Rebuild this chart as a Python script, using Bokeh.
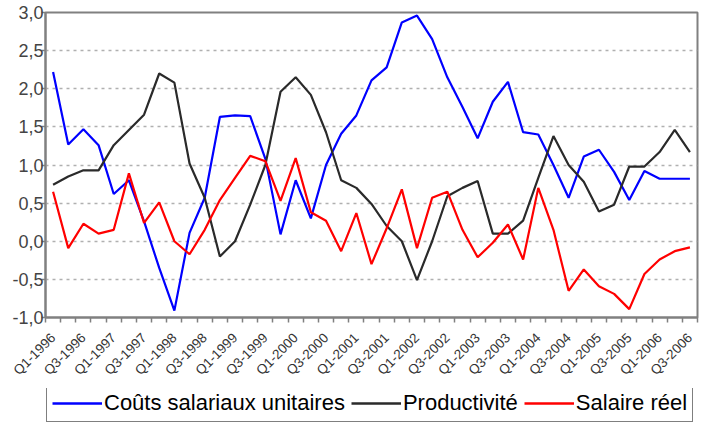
from bokeh.plotting import figure
from bokeh.layouts import column
from bokeh.models import (Range1d, FixedTicker, CustomJSTickFormatter, Legend, LegendItem)
from bokeh.embed import file_html
from bokeh.resources import INLINE
import math

quarters = []
for y in range(1996, 2007):
    for q in range(1, 5):
        quarters.append(f"Q{q}-{y}")
quarters = quarters[:43]

couts = [2.22, 1.27, 1.47, 1.26, 0.62, 0.80, 0.26, -0.35, -0.91, 0.11,
         0.57, 1.63, 1.65, 1.64, 1.08, 0.09, 0.80, 0.30, 1.00, 1.41,
         1.65, 2.11, 2.28, 2.87, 2.96, 2.65, 2.15, 1.76, 1.35, 1.83,
         2.09, 1.43, 1.40, 1.00, 0.57, 1.11, 1.20, 0.91, 0.54, 0.92,
         0.82, 0.82, 0.82]
productivite = [0.74, 0.85, 0.93, 0.93, 1.26, 1.46, 1.66, 2.20, 2.08, 1.02,
                0.57, -0.20, 0.00, 0.48, 1.00, 1.96, 2.15, 1.92, 1.43, 0.80,
                0.70, 0.49, 0.20, 0.00, -0.51, 0.00, 0.59, 0.70, 0.79, 0.10,
                0.10, 0.27, 0.83, 1.38, 1.00, 0.78, 0.39, 0.48, 0.98, 0.98,
                1.17, 1.46, 1.17]
salaire = [0.65, -0.09, 0.23, 0.10, 0.15, 0.89, 0.24, 0.51, 0.00, -0.17,
           0.15, 0.54, 0.83, 1.12, 1.05, 0.53, 1.09, 0.38, 0.27, -0.13,
           0.37, -0.30, 0.17, 0.68, -0.09, 0.57, 0.65, 0.15, -0.21, -0.02,
           0.22, -0.24, 0.70, 0.15, -0.65, -0.37, -0.59, -0.69, -0.89, -0.43,
           -0.24, -0.13, -0.08]
series_names = ["Coûts salariaux unitaires", "Productivité", "Salaire réel"]
series_colors = ["#0000FF", "#2a2a2a", "#FF0000"]
series_values = [couts, productivite, salaire]

x = list(range(len(quarters)))

p = figure(width=699, height=388, output_backend="svg", toolbar_location=None,
           x_range=Range1d(-0.5, len(quarters) - 0.5), y_range=Range1d(-1, 3),
           min_border_left=45, min_border_right=2, min_border_top=12, min_border_bottom=71)

p.outline_line_color = "#808080"
p.outline_line_width = 2

for vals, col in zip(series_values, series_colors):
    p.line(x, vals, line_color=col, line_width=2.2)

# x axis
p.xaxis.ticker = FixedTicker(ticks=list(range(0, len(quarters), 2)),
                             minor_ticks=[i - 0.5 for i in range(len(quarters) + 1)])
p.xaxis.major_label_overrides = {i: quarters[i] for i in range(0, len(quarters), 2)}
p.xaxis.major_label_orientation = math.pi / 4
p.xaxis.major_tick_line_color = None
p.xaxis.minor_tick_line_color = "#808080"
p.xaxis.minor_tick_line_width = 1.5
p.xaxis.minor_tick_out = 5
p.xaxis.minor_tick_in = 0
p.xaxis.axis_line_color = "#808080"
p.xaxis.axis_line_width = 2
p.xaxis.major_label_text_font = "Liberation Sans"
p.xaxis.major_label_text_font_size = "13.5px"
p.xaxis.major_label_text_color = "#333333"
p.xaxis.major_label_standoff = 12
p.xgrid.grid_line_color = None

# y axis
p.yaxis.ticker = FixedTicker(ticks=[-1, -0.5, 0, 0.5, 1, 1.5, 2, 2.5, 3])
p.yaxis.formatter = CustomJSTickFormatter(code="return tick.toFixed(1).replace('.', ',');")
p.yaxis.axis_line_color = "#808080"
p.yaxis.axis_line_width = 2
p.yaxis.major_tick_line_color = "#808080"
p.yaxis.major_tick_line_width = 1.5
p.yaxis.major_tick_out = 4
p.yaxis.major_tick_in = 0
p.yaxis.minor_tick_line_color = None
p.yaxis.major_label_text_font = "Liberation Sans"
p.yaxis.major_label_text_font_size = "18px"
p.yaxis.major_label_text_color = "#444444"
p.yaxis.major_label_standoff = -2
p.ygrid.grid_line_color = "#b0b0b0"
p.ygrid.grid_line_dash = "3 4"
p.ygrid.grid_line_width = 1.5

# legend in a strip below the chart (series drawn out of view, only the key shows)
lg = figure(width=699, height=35, output_backend="svg", toolbar_location=None,
            x_range=Range1d(0, 1), y_range=Range1d(100, 101),
            min_border=0, min_border_left=0, min_border_right=0,
            min_border_top=0, min_border_bottom=0)
lg.axis.visible = False
lg.grid.visible = False
lg.outline_line_color = None
items = []
for name, vals, col in zip(series_names, series_values, series_colors):
    r = lg.line(x, vals, line_color=col, line_width=2.5)
    items.append(LegendItem(label=name, renderers=[r]))
legend = Legend(items=items, orientation="horizontal", location=(1, 1),
                label_text_font="Liberation Sans", label_text_font_size="22px",
                label_text_color="#000000",
                glyph_width=50, glyph_height=20, label_standoff=2, spacing=6,
                padding=5, margin=0,
                border_line_color="#000000", border_line_width=1.5,
                background_fill_alpha=0)
lg.add_layout(legend, "center")

open("out.html", "w").write(file_html(column(p, lg, spacing=0), INLINE))
